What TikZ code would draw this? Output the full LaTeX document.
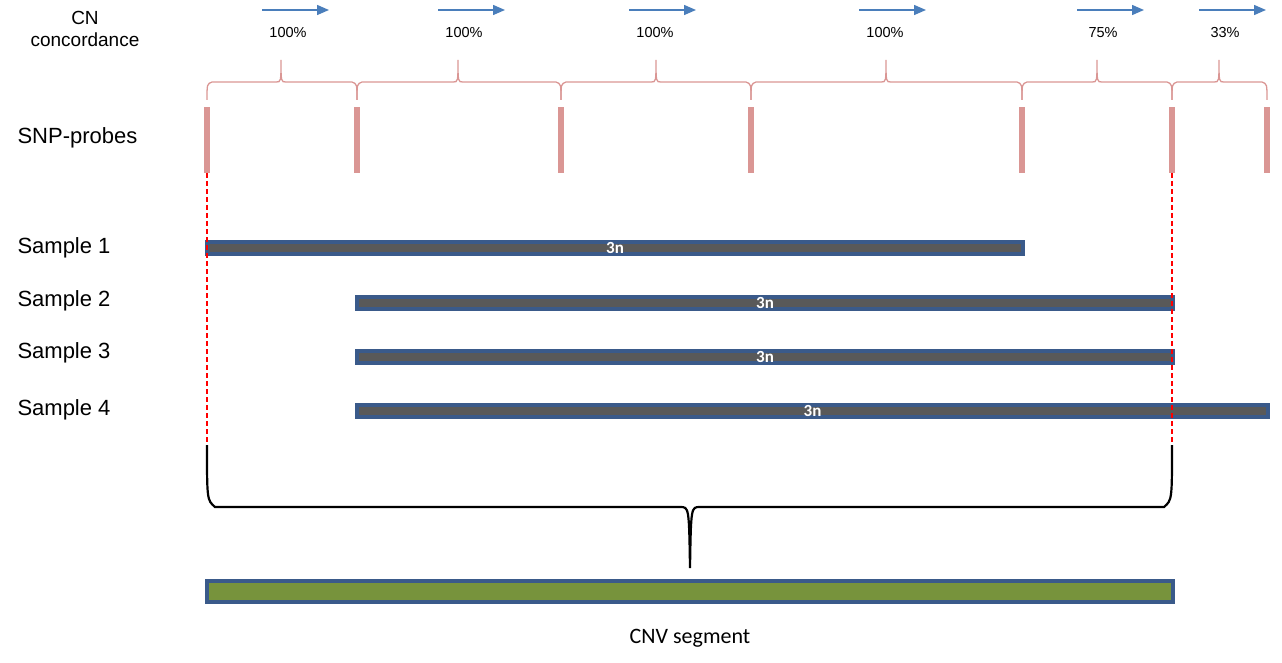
\documentclass[tikz,border=0pt]{standalone}
\usepackage{fontspec}
\setmainfont{Liberation Sans}
\newfontfamily\carlito{Carlito}
\usetikzlibrary{arrows.meta}
\definecolor{probe}{HTML}{DA9694}
\definecolor{barblue}{HTML}{3A5A8A}
\definecolor{bargray}{HTML}{595959}
\definecolor{arrblue}{HTML}{4A7EBB}
\definecolor{cnvgreen}{HTML}{77933C}
\tikzset{
  lab/.style={anchor=west, font=\fontsize{22}{26}\selectfont},
  pct/.style={font=\fontsize{14.5}{17}\selectfont},
  bar/.style={draw=barblue, line width=4pt, fill=bargray},
  nlab/.style={text=white, font=\carlito\bfseries\fontsize{17}{20}\selectfont},
  pbrace/.style={draw=probe, line width=1.3pt},
}
\begin{document}
\begin{tikzpicture}[x=1pt, y=-1pt]
\useasboundingbox (0,0) rectangle (1282,663);

% Row labels
\node[align=center, font=\fontsize{19}{22}\selectfont] (cnlab) at (85,29) {CN\\concordance};
\node[lab] (snp) at (14,138) {SNP-probes};
\node[lab] (s1) at (14,248) {Sample 1};
\node[lab] (s2) at (14,301) {Sample 2};
\node[lab] (s3) at (14,353) {Sample 3};
\node[lab] (s4) at (14,410) {Sample 4};

% Probes
\foreach \x [count=\i] in {207,357,561,751,1022,1172,1267}{
  \fill[probe] (\x-3,107) rectangle (\x+3,173);
  \coordinate (p\i) at (\x,173);
}

% Concordance braces, arrows and values
\foreach \a/\b/\m/\ax/\v [count=\i] in {207/357/281/262/100\%, 357/561/458/438/100\%, 561/751/656/629/100\%,
    751/1022/886/859/100\%, 1022/1172/1097/1077/75\%, 1172/1267/1219/1199/33\%}{
  \draw[pbrace] (\a,100) .. controls (\a,84) .. (\a+5,82) -- (\m-5,82)
     .. controls (\m,82) .. (\m,60) .. controls (\m,82) .. (\m+5,82) -- (\b-5,82) .. controls (\b,84) .. (\b,100);
  \draw[arrblue, line width=1.4pt, -{Triangle[length=12pt,width=10pt]}] (\ax,10) -- (\ax+67,10);
  \node[pct] (c\i) at (\ax+26,33) {\v};
}

% Sample bars
\foreach \a/\b/\y [count=\i] in {207/1023/248, 357/1173/303, 357/1173/357, 357/1268/411}{
  \draw[bar] (\a,\y-6) rectangle (\b,\y+6);
  \node[nlab] (n\i) at ({(\a+\b)/2},\y) {3n};
}

% Segment bounds
\coordinate (e1) at (207,445);
\coordinate (e2) at (1172,445);
\draw[red, dash pattern=on 5pt off 3pt, line width=1.3pt] (p1) -- (e1);
\draw[red, dash pattern=on 5pt off 3pt, line width=1.3pt] (p6) -- (e2);

% Merge brace
\coordinate (tip) at (690,568);
\draw[black, line width=2.2pt] (e1) .. controls (207,500) .. (215,507) -- (680,507)
   .. controls (689,507) .. (tip) .. controls (691,507) .. (700,507) -- (1164,507)
   .. controls (1172,500) .. (e2);

% CNV segment
\draw[draw=barblue, line width=4.5pt, fill=cnvgreen] (207,581) rectangle (1173,602);
\node[font=\carlito\fontsize{22}{26}\selectfont] (cnv) at (690,638) {CNV segment};
\end{tikzpicture}
\end{document}
